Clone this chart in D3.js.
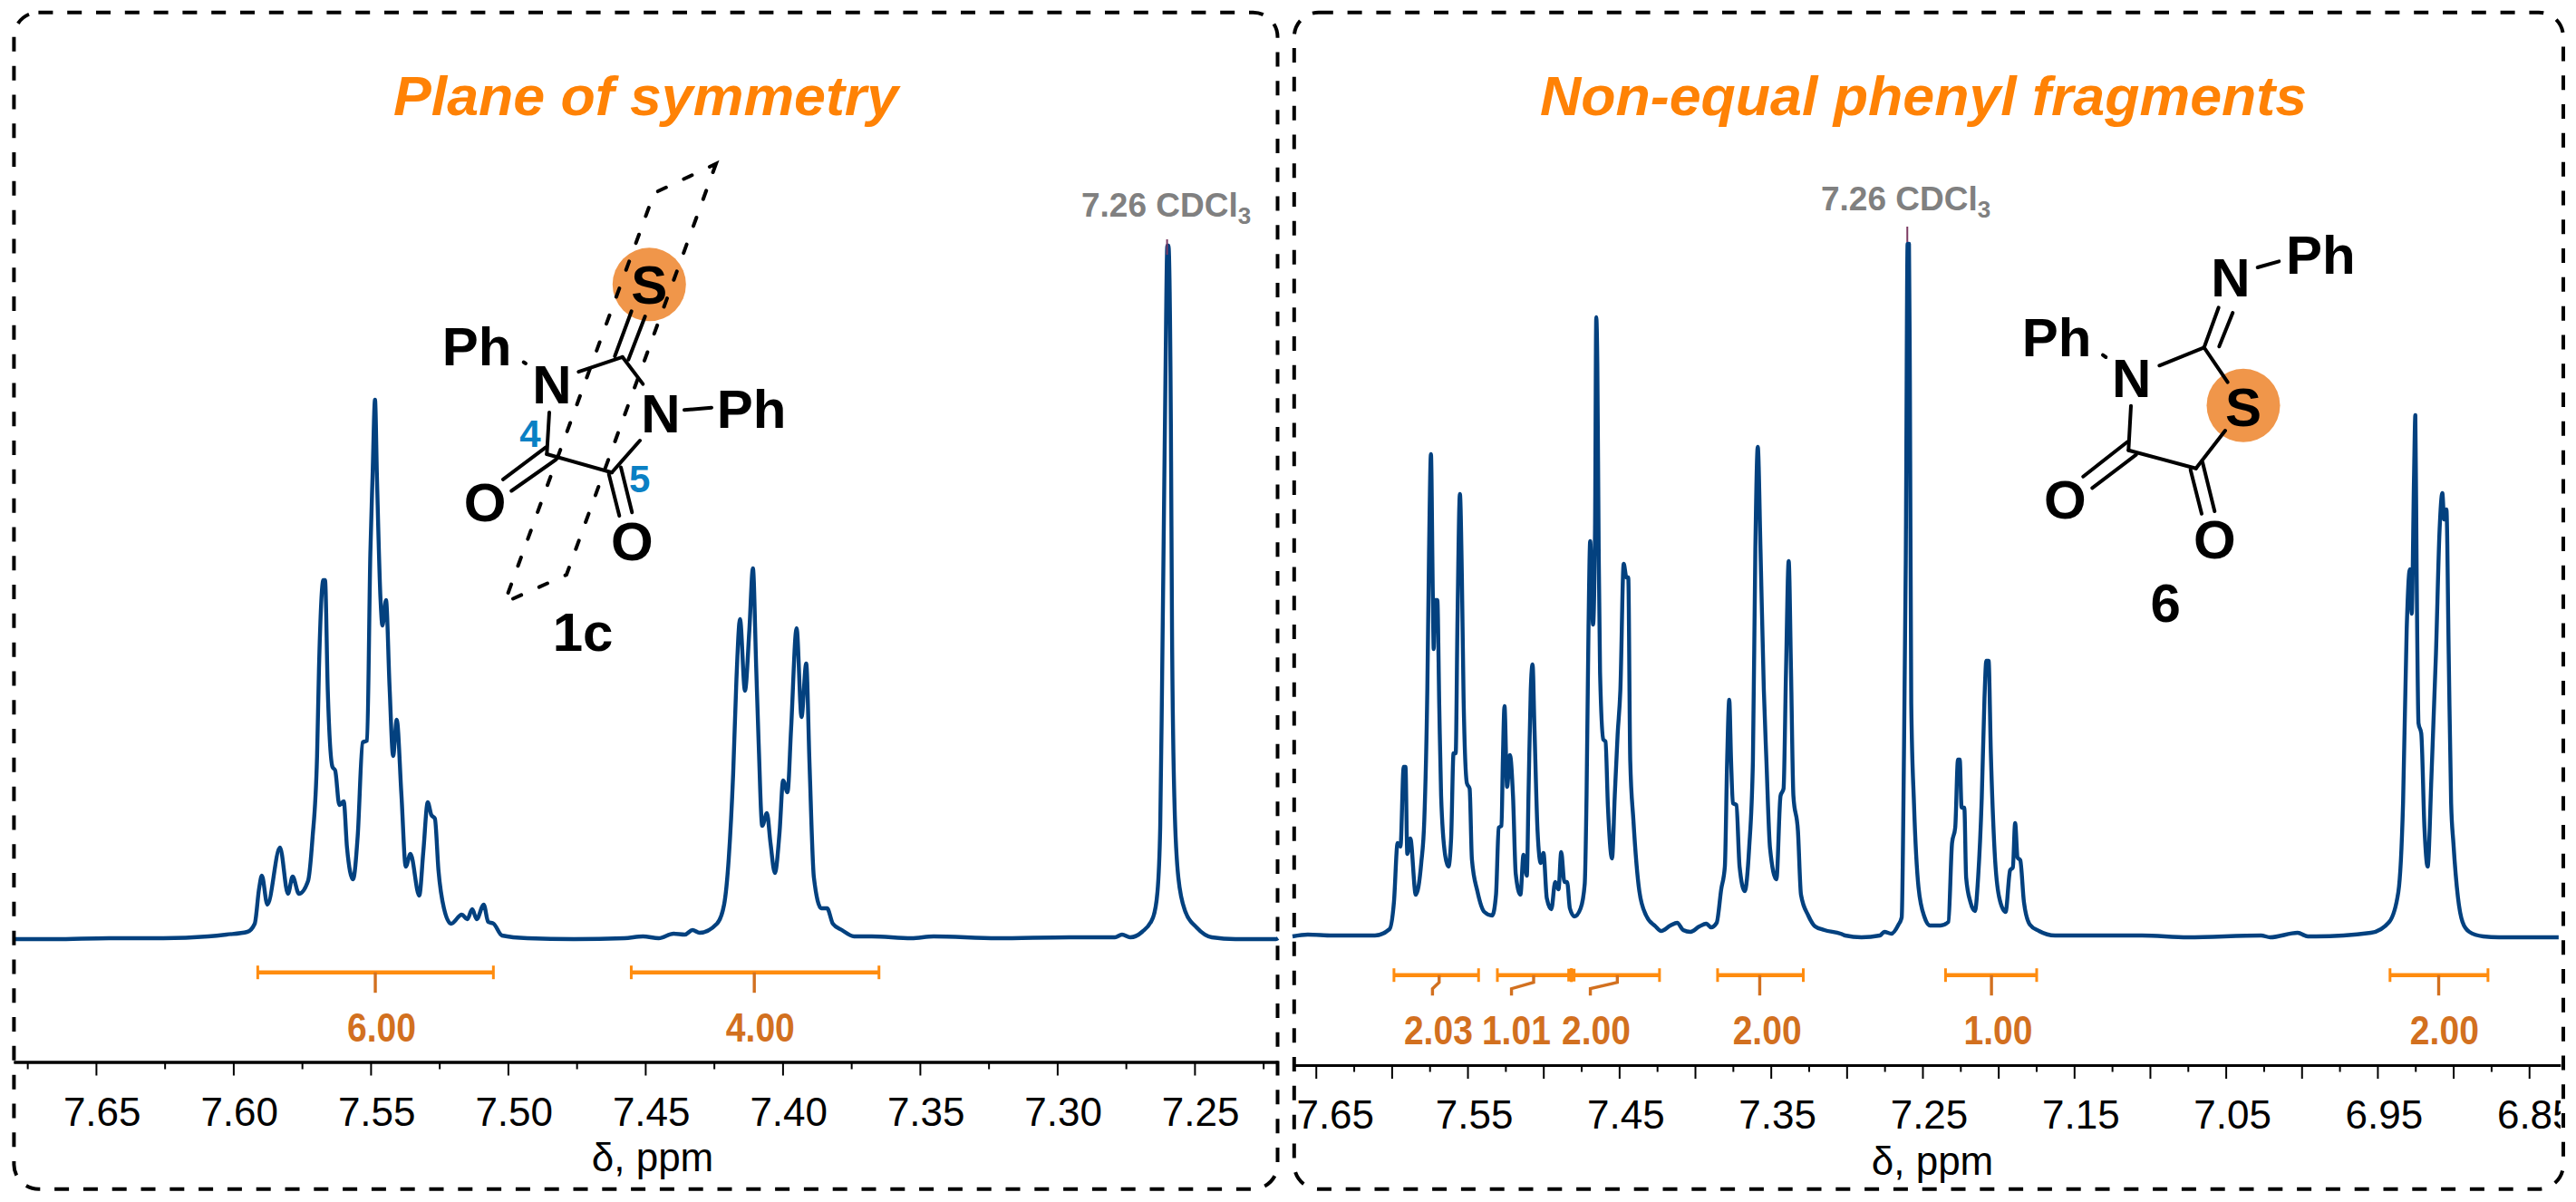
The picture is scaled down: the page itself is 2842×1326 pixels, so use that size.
<!DOCTYPE html>
<html>
<head>
<meta charset="utf-8">
<script src="https://cdn.jsdelivr.net/npm/d3@7"></script>
<style>
  body { margin: 0; background: #fff; }
  text { font-family: "Liberation Sans", Arial, sans-serif; }
</style>
</head>
<body>
<script>
// 1H NMR traces: ppm and intensity (a.u., solvent peak ~ 765)
const leftPpm = [7.6797,7.6651,7.6453,7.6255,7.6091,7.6025,7.5949,7.5922,7.5906,7.5896,7.5876,7.5830,7.5801,7.5784,7.5761,7.5728,7.5712,7.5695,7.5688,7.5672,7.5666,7.5656,7.5639,7.5629,7.5614,7.5598,7.5586,7.5564,7.5547,7.5529,7.5513,7.5501,7.5493,7.5484,7.5477,7.5464,7.5457,7.5444,7.5431,7.5418,7.5405,7.5388,7.5372,7.5355,7.5323,7.5308,7.5292,7.5279,7.5266,7.5253,7.5233,7.5207,7.5168,7.5148,7.5130,7.5114,7.5088,7.5072,7.5052,7.5022,7.4929,7.4760,7.4576,7.4508,7.4451,7.4397,7.4356,7.4328,7.4302,7.4239,7.4213,7.4196,7.4180,7.4168,7.4155,7.4137,7.4121,7.4108,7.4096,7.4087,7.4074,7.4057,7.4044,7.4028,7.4011,7.3998,7.3982,7.3969,7.3949,7.3931,7.3914,7.3902,7.3886,7.3859,7.3838,7.3817,7.3784,7.3740,7.3675,7.3531,7.3450,7.3219,7.2956,7.2790,7.2764,7.2734,7.2691,7.2651,7.2635,7.2625,7.2618,7.2612,7.2606,7.2599,7.2595,7.2586,7.2582,7.2573,7.2559,7.2533,7.2493,7.2437,7.2351,7.2203,7.2196];
const leftInt = [0,0,1,1,3,5,8,17,56,70,38,101,50,69,50,64,110,202,299,396,396,274,190,186,148,152,101,66,114,217,219,426,510,595,510,375,346,374,278,202,242,160,80,94,48,97,151,137,133,76,34,17,27,22,33,22,38,19,17,4,1,0,1,3,1,6,5,10,7,17,38,89,182,287,353,274,341,409,299,215,125,139,106,73,118,175,162,232,343,245,304,194,68,34,34,17,10,3,3,1,3,1,2,2,5,2,8,24,52,123,288,452,617,765,765,562,342,150,68,30,13,2,0,0,1];

const rightPpm = [7.6654,7.6553,7.6391,7.6271,7.6110,7.6014,7.5985,7.5961,7.5942,7.5921,7.5909,7.5897,7.5877,7.5841,7.5805,7.5785,7.5765,7.5754,7.5741,7.5729,7.5723,7.5715,7.5699,7.5686,7.5674,7.5647,7.5626,7.5608,7.5592,7.5578,7.5566,7.5550,7.5537,7.5526,7.5504,7.5486,7.5471,7.5435,7.5389,7.5337,7.5312,7.5294,7.5276,7.5267,7.5256,7.5239,7.5220,7.5200,7.5182,7.5151,7.5131,7.5109,7.5097,7.5083,7.5071,7.5059,7.5038,7.5017,7.4999,7.4977,7.4947,7.4922,7.4900,7.4882,7.4861,7.4843,7.4825,7.4795,7.4754,7.4727,7.4715,7.4702,7.4691,7.4672,7.4659,7.4651,7.4644,7.4635,7.4626,7.4604,7.4590,7.4574,7.4547,7.4529,7.4510,7.4492,7.4470,7.4452,7.4440,7.4427,7.4406,7.4367,7.4322,7.4260,7.4223,7.4162,7.4117,7.4078,7.4030,7.3971,7.3925,7.3894,7.3857,7.3827,7.3803,7.3788,7.3774,7.3762,7.3750,7.3727,7.3706,7.3672,7.3643,7.3618,7.3602,7.3586,7.3568,7.3546,7.3529,7.3505,7.3463,7.3436,7.3416,7.3400,7.3382,7.3367,7.3351,7.3321,7.3301,7.3253,7.3208,7.3147,7.3040,7.3010,7.2902,7.2781,7.2751,7.2705,7.2658,7.2637,7.2622,7.2610,7.2598,7.2589,7.2583,7.2574,7.2556,7.2526,7.2486,7.2450,7.2381,7.2329,7.2305,7.2284,7.2266,7.2254,7.2242,7.2224,7.2212,7.2184,7.2154,7.2133,7.2109,7.2091,7.2079,7.2064,7.2049,7.2024,7.1994,7.1952,7.1922,7.1904,7.1889,7.1873,7.1855,7.1831,7.1792,7.1732,7.1626,7.1354,7.1052,7.0750,7.0267,7.0207,7.0026,6.9959,6.9905,6.9543,6.9422,6.9362,6.9331,6.9307,6.9286,6.9274,6.9259,6.9250,6.9241,6.9229,6.9211,6.9190,6.9169,6.9144,6.9114,6.9090,6.9072,6.9060,6.9045,6.9030,6.9014,6.8999,6.8969,6.8939,6.8894,6.8803,6.8698,6.8547,6.8305,6.8294];
const rightInt = [1,3,2,2,2,9,39,104,100,188,188,92,109,47,82,129,273,421,533,382,318,372,372,253,156,90,78,109,203,203,351,489,397,265,170,164,86,51,28,24,47,121,123,195,255,166,201,156,70,47,91,68,164,273,301,234,117,82,93,43,31,61,53,94,61,61,32,23,32,59,156,343,437,345,452,684,634,428,292,218,216,144,87,156,224,273,412,397,397,195,129,51,24,12,7,13,16,8,6,12,15,11,16,53,78,195,262,195,148,146,78,51,98,195,428,541,428,273,195,98,64,156,164,292,415,296,156,117,47,24,12,8,4,2,0,2,6,4,14,22,203,417,765,765,615,258,148,55,22,13,13,17,104,121,196,196,143,143,66,39,29,66,154,264,305,305,203,94,44,28,74,77,126,88,85,39,14,7,2,2,2,0,2,0,5,1,1,5,17,50,148,340,406,357,505,576,395,236,225,121,78,176,313,450,490,461,472,313,148,104,44,17,6,1,0,0,0];

// axes
const leftMajor = [7.65,7.60,7.55,7.50,7.45,7.40,7.35,7.30,7.25];
const leftMinor = [7.675,7.625,7.575,7.525,7.475,7.425,7.375,7.325,7.275,7.225];
const leftLabels = leftMajor;
const rightMajor = [7.65,7.60,7.55,7.50,7.45,7.40,7.35,7.30,7.25,7.20,7.15,7.10,7.05,7.00,6.95,6.90,6.85];
const rightMinor = [7.625,7.575,7.525,7.475,7.425,7.375,7.325,7.275,7.225,7.175,7.125,7.075,7.025,6.975,6.925,6.875];
const rightLabels = [7.65,7.55,7.45,7.35,7.25,7.15,7.05,6.95,6.85];

// integrals: [from, to, value, label ppm]
const leftIntegrals = [[7.5911,7.5053,'6.00',7.5460],[7.4551,7.3649,'4.00',7.4081]];
const leftLegs = [[7.5483,7.5483],[7.4103,7.4103]];
const rightIntegrals = [[7.5985,7.5427,'2.03',7.5692],[7.5303,7.4815,'1.01',7.5178],[7.4815,7.4234,'2.00',7.4652],[7.3851,7.3286,'2.00',7.3524],[7.2348,7.1747,'1.00',7.2001],[6.9417,6.8771,'2.00',6.9058]];
const rightLegs = [[7.5687,7.5731],[7.5064,7.5210],[7.4512,7.4690],[7.3573,7.3573],[7.2045,7.2045],[6.9096,6.9096]];

const navy = '#03417f', orange = '#ff8c0f', rust = '#d2701f', ink = '#000';

const svg = d3.select('body').append('svg')
    .attr('width', 2842)
    .attr('height', 1326);

// the last right-hand tick label runs off the frame
svg.append('defs').append('clipPath').attr('id', 'rightClip')
    .append('rect').attr('x', 1420).attr('y', -10).attr('width', 1405).attr('height', 120);

function panel(o) {
  const g = svg.append('g');
  const x = d3.scaleLinear().domain(o.domain).range(o.range);
  const y = d3.scaleLinear().domain([0, 800]).range([o.base, o.base - 800]);

  const line = d3.line().curve(d3.curveMonotoneX).x((d) => x(d[0])).y((d) => y(d[1]));
  g.append('path')
      .datum(d3.zip(o.ppm, o.int))
      .attr('d', line)
      .attr('fill', 'none')
      .attr('stroke', navy)
      .attr('stroke-width', 4.4)
      .attr('stroke-linejoin', 'round');

  // peak marker at the solvent tip
  g.append('line')
      .attr('x1', x(7.26)).attr('x2', x(7.26))
      .attr('y1', o.peakTop).attr('y2', o.peakTop + 17)
      .attr('stroke', '#7c3a62').attr('stroke-width', 2);

  // integrals
  const bars = g.selectAll('g.integral').data(o.integrals).join('g').attr('class', 'integral');
  bars.append('line')
      .attr('x1', (d) => x(d[0])).attr('x2', (d) => x(d[1]))
      .attr('y1', o.barY).attr('y2', o.barY)
      .attr('stroke', orange).attr('stroke-width', 4.6);
  [0, 1].forEach((k) => {
    bars.append('line')
        .attr('x1', (d) => x(d[k])).attr('x2', (d) => x(d[k]))
        .attr('y1', o.barY - 7.5).attr('y2', o.barY + 7.5)
        .attr('stroke', orange).attr('stroke-width', k === 0 && o.thickJoin === undefined ? 3 : 3);
  });
  if (o.thickJoin) {
    g.append('line')
        .attr('x1', x(o.thickJoin)).attr('x2', x(o.thickJoin))
        .attr('y1', o.barY - 7).attr('y2', o.barY + 7)
        .attr('stroke', orange).attr('stroke-width', 9);
  }
  g.selectAll('path.leg').data(o.legs).join('path')
      .attr('class', 'leg')
      .attr('fill', 'none')
      .attr('stroke', rust)
      .attr('stroke-width', 3.4)
      .attr('d', (d) => `M${x(d[0])},${o.barY}V${o.barY + 8}L${x(d[1])},${o.barY + 15}V${o.barY + 22.5}`);
  g.selectAll('text.val').data(o.integrals).join('text')
      .attr('class', 'val')
      .attr('x', (d) => x(d[3]))
      .attr('y', o.valY)
      .attr('text-anchor', 'middle')
      .attr('font-size', 44)
      .attr('font-weight', 'bold')
      .attr('fill', rust)
      .attr('textLength', 76)
      .attr('lengthAdjust', 'spacingAndGlyphs')
      .text((d) => d[2]);

  // axis: tall ticks, short ticks, labels
  const ax = g.append('g').attr('transform', `translate(0,${o.axisY})`);
  ax.append('g').call(d3.axisBottom(x).tickValues(o.minor).tickSize(o.minorLen).tickSizeOuter(0).tickFormat(''));
  ax.append('g').call(d3.axisBottom(x).tickValues(o.major).tickSize(o.majorLen).tickSizeOuter(0).tickFormat(''));
  const lab = ax.append('g').attr('clip-path', o.clip || null)
      .call(d3.axisBottom(x).tickValues(o.labels).tickSize(0).tickSizeOuter(0).tickFormat(d3.format('.2f')));
  lab.select('.domain').remove();
  lab.selectAll('text')
      .attr('y', o.labelY)
      .attr('dy', 0)
      .attr('dx', (d) => (d === 7.65 ? o.firstDx : o.labelDx))
      .attr('font-size', 44)
      .attr('font-family', '"Liberation Sans", Arial, sans-serif')
      .attr('fill', ink);
  ax.selectAll('.tick line').attr('stroke', ink).attr('stroke-width', 2);
  ax.selectAll('.domain').attr('stroke', ink).attr('stroke-width', 3);

  g.append('text')
      .attr('x', o.unitX).attr('y', o.unitY)
      .attr('text-anchor', 'middle')
      .attr('font-size', 44)
      .text('δ, ppm');

  // title
  g.append('text')
      .attr('x', o.titleX).attr('y', 126.5)
      .attr('text-anchor', 'middle')
      .attr('font-size', 62)
      .attr('font-weight', 'bold')
      .attr('font-style', 'italic')
      .attr('fill', '#ff8205')
      .attr('textLength', o.titleW)
      .attr('lengthAdjust', 'spacingAndGlyphs')
      .text(o.title);

  // solvent label
  const s = g.append('text')
      .attr('x', o.solventX).attr('y', o.solventY)
      .attr('font-size', 37)
      .attr('font-weight', 'bold')
      .attr('fill', '#808080');
  s.append('tspan').text('7.26 CDCl');
  s.append('tspan').attr('font-size', 26).attr('dy', 8).text('3');

  // dashed frame
  g.append('rect')
      .attr('x', o.box[0]).attr('y', 13.7)
      .attr('width', o.box[1] - o.box[0]).attr('height', 1311.7 - 13.7)
      .attr('rx', 27).attr('ry', 27)
      .attr('fill', 'none')
      .attr('stroke', ink)
      .attr('stroke-width', 4)
      .attr('stroke-dasharray', '16 15.8');
}

panel({
  domain: [7.68, 7.2196], range: [15, 1410],
  ppm: leftPpm, int: leftInt, base: 1036, peakTop: 264,
  integrals: leftIntegrals, legs: leftLegs, barY: 1072.7, valY: 1149,
  major: leftMajor, minor: leftMinor, labels: leftLabels,
  axisY: 1171.5, majorLen: 15, minorLen: 8, labelY: 70, labelDx: 6.3, firstDx: 6.3,
  unitX: 720, unitY: 1292,
  title: 'Plane of symmetry', titleX: 712.5, titleW: 557,
  solventX: 1193, solventY: 239, box: [15.4, 1409.5]
});

panel({
  domain: [7.6652, 6.8294], range: [1426.3, 2824.7],
  ppm: rightPpm, int: rightInt, base: 1034, peakTop: 250,
  integrals: rightIntegrals, legs: rightLegs, barY: 1075.7, valY: 1151.5, thickJoin: 7.4815,
  major: rightMajor, minor: rightMinor, labels: rightLabels, clip: 'url(#rightClip)',
  axisY: 1175, majorLen: 15, minorLen: 7.5, labelY: 70, labelDx: 7, firstDx: 21,
  unitX: 2132, unitY: 1296,
  title: 'Non-equal phenyl fragments', titleX: 2122, titleW: 846,
  solventX: 2009, solventY: 231.7, box: [1427.8, 2828]
});

// structure drawings (not data): atoms and bonds as pixel positions on the page
const circles1c = [[716.3, 313.8]];
const atoms1c = [['S',716.3,335],['Ph',526,402.6],['N',609,444.7],['N',729,477],['Ph',829,472],['O',535,575],['O',697.3,618],['1c',643,718]];
const bonds1c = [[696.7,343.3,678.3,393],[711.7,349,693.3,396.8],[638.3,410.2,686.7,393.8],[686.7,393.8,709.3,423.6],[606,455,603.3,501],[603.3,501,675,521.2],[675,521.2,706,486],[602.3,493.3,555,528.9],[613.3,507,564.3,541.5],[671.7,523,683.3,569],[685,515.5,697.3,565.2],[755,452.3,785,449.7],[577.7,399.5,580,401]];
const plane1c = [[790,180.6],[625,634],[556.7,664.7],[721.7,213]];
const circles6 = [[2475, 447.3]];
const atoms6 = [['S',2475,470],['N',2461,326.7],['Ph',2560.3,302.3],['Ph',2269,393.3],['N',2351.7,437.7],['O',2278.3,571.5],['O',2443.3,615.5],['6',2389.3,685.7]];
const bonds6 = [[2431.7,383.3,2447.7,339.3],[2448.3,382.3,2463.3,345],[2382.3,403.3,2431.7,383.3],[2431.7,383.3,2457.7,421.7],[2351,447.7,2348.3,496.7],[2348.3,496.7,2422.7,516.7],[2422.7,516.7,2455,475],[2346.7,487.7,2298.3,525.7],[2356.7,501.7,2308.3,538.3],[2416.7,518.3,2429,566.7],[2430,510,2443.3,564],[2490.7,295,2514.3,288.3],[2320,391.7,2323.3,394]];

function molecule(circles, atoms, bonds) {
  const g = svg.append('g');
  g.selectAll('circle').data(circles).join('circle')
      .attr('cx', (d) => d[0]).attr('cy', (d) => d[1])
      .attr('r', 40.5).attr('fill', '#f0964a');
  g.selectAll('line').data(bonds).join('line')
      .attr('x1', (d) => d[0]).attr('y1', (d) => d[1])
      .attr('x2', (d) => d[2]).attr('y2', (d) => d[3])
      .attr('stroke', ink).attr('stroke-width', 4).attr('stroke-linecap', 'round');
  g.selectAll('text').data(atoms).join('text')
      .attr('x', (d) => d[1]).attr('y', (d) => d[2])
      .attr('text-anchor', 'middle')
      .attr('font-size', 60)
      .attr('font-weight', 'bold')
      .text((d) => d[0]);
  return g;
}

const m1 = molecule(circles1c, atoms1c, bonds1c);
m1.append('path')
    .attr('d', d3.line().curve(d3.curveLinearClosed)(plane1c))
    .attr('fill', 'none')
    .attr('stroke', ink)
    .attr('stroke-width', 4)
    .attr('stroke-linecap', 'round')
    .attr('stroke-dasharray', '10 21.6');
[['4', 585, 492.5], ['5', 705.7, 543]].forEach((n) => {
  m1.append('text')
      .attr('x', n[1]).attr('y', n[2])
      .attr('text-anchor', 'middle')
      .attr('font-size', 42)
      .attr('font-weight', 'bold')
      .attr('fill', '#0a80c4')
      .text(n[0]);
});

molecule(circles6, atoms6, bonds6);
</script>
</body>
</html>
